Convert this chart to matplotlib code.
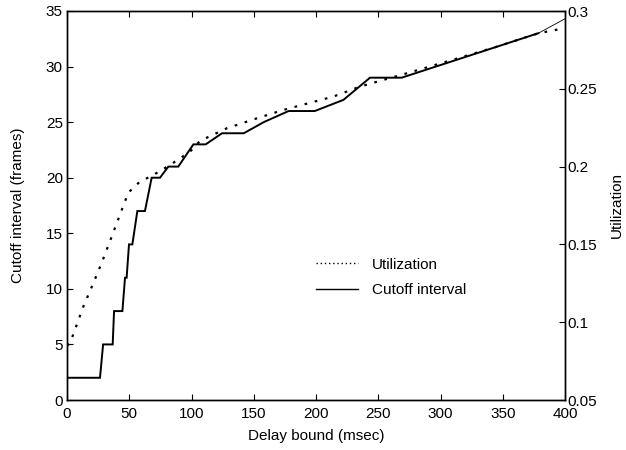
import matplotlib
matplotlib.use("Agg")
import matplotlib.pyplot as plt
from matplotlib.lines import Line2D

plt.rcParams['font.family'] = ['Liberation Sans', 'DejaVu Sans']

# Cutoff interval (frames), solid line, left axis
cut_x = [0, 26.5, 29, 36.7, 37.8, 44.5, 46.6, 47.9, 49.8, 52.5, 56.5, 62.6,
         68, 74.7, 81.4, 89.4, 101.5, 111.4, 124.5, 142, 158, 178, 199, 222,
         243.4, 268.8, 378.6]
cut_y = [2, 2, 5, 5, 8, 8, 11, 11, 14, 14, 17, 17,
         20, 20, 21, 21, 23, 23, 24, 24, 25, 26, 26, 27,
         29, 29, 33]
# thin extension at the end
ext_x = [378.6, 400]
ext_y = [33, 34.3]

# Utilization, dotted line, right axis
util_x = [0, 2.4, 13.1, 21.1, 27.8, 35.9, 43.9, 49.3, 58.6, 68, 82.7, 98.8,
          106.8, 128.3, 152.4, 173.7, 213.9, 235.3, 254, 268.8, 305, 345,
          378.6, 400]
util_y = [0.085, 0.0864, 0.110, 0.125, 0.138, 0.155, 0.172, 0.1833, 0.1904,
          0.194, 0.201, 0.2096, 0.2165, 0.2246, 0.231, 0.2364, 0.245, 0.2514,
          0.2557, 0.259, 0.2675, 0.277, 0.2857, 0.289]

x_ticks = [0, 50, 100, 150, 200, 250, 300, 350, 400]
left_ticks = [0, 5, 10, 15, 20, 25, 30, 35]
right_ticks = [0.05, 0.1, 0.15, 0.2, 0.25, 0.3]
right_labels = ["0.05", "0.1", "0.15", "0.2", "0.25", "0.3"]

fig = plt.figure(figsize=(6.26, 4.5), dpi=100)
ax = fig.add_axes([67/626, 50/450, 498/626, 389/450])
ax2 = ax.twinx()

ax.plot(cut_x, cut_y, color='black', lw=1.4, solid_joinstyle='miter')
ax.plot(ext_x, ext_y, color='black', lw=0.6)
ax2.plot(util_x, util_y, color='black', lw=1.6, linestyle=(0, (1.2, 3.5)))

ax.set_xlim(0, 400)
ax.set_ylim(0, 35)
ax2.set_ylim(0.05, 0.3)
ax.set_xticks(x_ticks)
ax.set_yticks(left_ticks)
ax2.set_yticks(right_ticks)
ax2.set_yticklabels(right_labels)

ax.tick_params(axis='x', direction='in', top=True, labelsize=11, length=4, pad=5)
ax.tick_params(axis='y', direction='in', labelsize=11, length=4, pad=3)
ax2.tick_params(axis='y', direction='in', labelsize=11, length=4, pad=2)
for a in (ax, ax2):
    for s in a.spines.values():
        s.set_linewidth(1.0)

ax.set_xlabel("Delay bound (msec)", fontsize=11, labelpad=6)
ax.set_ylabel("Cutoff interval (frames)", fontsize=11, labelpad=15)
ax2.set_ylabel("Utilization", fontsize=11, labelpad=9)

handles = [Line2D([], [], color='black', lw=1.0, linestyle=(0, (1, 2))),
           Line2D([], [], color='black', lw=1.0)]
ax.legend(handles, ["Utilization", "Cutoff interval"], frameon=False,
          loc='upper left', bbox_to_anchor=(302/626, 1 - 244/450),
          bbox_transform=fig.transFigure, fontsize=11, handlelength=2.75,
          handletextpad=0.9, labelspacing=0.75)

fig.savefig("out.png", dpi=100)
